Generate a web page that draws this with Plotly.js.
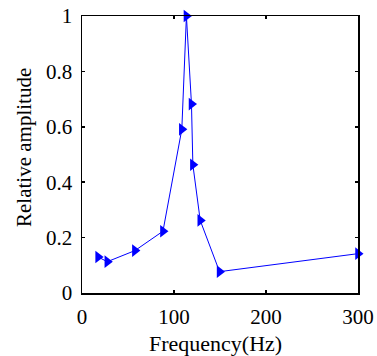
<!DOCTYPE html>
<html><head><meta charset="utf-8">
<script src="https://cdn.plot.ly/plotly-3.0.1.min.js"></script>
<style>html,body{margin:0;padding:0;background:#fff}#chart{width:377px;height:356px}</style>
</head><body><div id="chart"></div>
<script>
const frequency = [17.5, 27.5, 57.5, 88, 108.5, 113.5, 119, 120.5, 128.5, 149.5, 300];
const amplitude = [0.13, 0.113, 0.153, 0.223, 0.591, 1.0, 0.682, 0.463, 0.262, 0.077, 0.142];
const xTicks = [0, 100, 200, 300];
const yTicks = [0, 0.2, 0.4, 0.6, 0.8, 1];
const yTickText = ['0', '0.2', '0.4', '0.6', '0.8', '1'];
const xTitle = 'Frequency(Hz)';
const yTitle = 'Relative amplitude';

const tickFont = {family: 'Liberation Serif', size: 21, color: '#000'};
const xTitleFont = {family: 'Liberation Serif', size: 22, color: '#000'};
const yTitleFont = {family: 'Liberation Serif', size: 21, color: '#000'};
const trace = {
  x: frequency, y: amplitude, type: 'scatter', mode: 'lines+markers',
  line: {color: '#0000ff', width: 1},
  marker: {symbol: 'triangle-right', size: 11, color: '#0000ff'},
  cliponaxis: false, showlegend: false
};
const axisCommon = {
  showline: true, linecolor: '#000', linewidth: 1.5, mirror: 'ticks',
  ticks: 'inside', ticklen: 3, tickwidth: 1.5, tickcolor: '#000',
  showgrid: false, zeroline: false, tickfont: tickFont, ticklabelstandoff: 4
};
const layout = {
  width: 377, height: 356,
  margin: {l: 82, r: 19, t: 16, b: 63},
  paper_bgcolor: '#fff', plot_bgcolor: '#fff',
  font: tickFont,
  xaxis: Object.assign({}, axisCommon, {range: [0, 300], tickvals: xTicks, ticktext: xTicks.map(String)}),
  yaxis: Object.assign({}, axisCommon, {range: [0, 1], tickvals: yTicks, ticktext: yTickText}),
  annotations: [
    {text: xTitle, xref: 'paper', yref: 'paper', x: 0.5, y: 0, xanchor: 'center', yanchor: 'middle',
     xshift: -4.5, yshift: -50.5, showarrow: false, font: xTitleFont},
    {text: yTitle, xref: 'paper', yref: 'paper', x: 0, y: 0.5, xanchor: 'center', yanchor: 'middle',
     textangle: -90, xshift: -58, yshift: 6.5, showarrow: false, font: yTitleFont}
  ]
};
Plotly.newPlot('chart', [trace], layout, {displayModeBar: false, staticPlot: true});
</script></body></html>
